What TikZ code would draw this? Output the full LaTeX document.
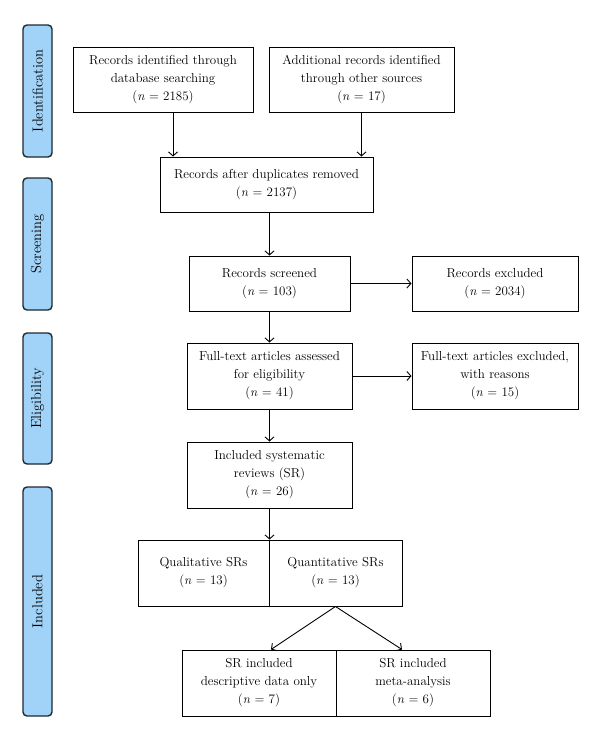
\documentclass[tikz,border=0pt]{standalone}
\usepackage{fontspec}
\usetikzlibrary{arrows.meta}
\definecolor{stageblue}{RGB}{160,211,247}
\definecolor{stageline}{RGB}{30,40,48}
\newcommand{\nval}[1]{(\textit{n}~=~#1)}
\begin{document}
\begin{tikzpicture}[
            x=1pt, y=-1pt,
            every node/.style={font=\fontsize{13}{18}\selectfont},
            box/.style={draw, line width=1pt, align=center, inner sep=0pt},
            stage/.style={draw=stageline, line width=1.4pt, fill=stageblue, rounded corners=4pt,
                rotate=90, minimum height=29pt, inner sep=0pt, font=\fontsize{14.5}{18}\selectfont},
            ->, >={Straight Barb[length=4pt, width=9pt]}, line width=0.9pt
            ]
        \useasboundingbox (0,0) rectangle (600,742);
        % stages on the left
        \node[stage, minimum width=132pt] (ident) at (37.5,91) {Identification};
        \node[stage, minimum width=132pt] (screen) at (37.5,244) {Screening};
        \node[stage, minimum width=131pt] (elig) at (37.5,398.5) {Eligibility};
        \node[stage, minimum width=229pt] (incl) at (37.5,601.5) {Included};
        % boxes
        \node[box, minimum width=180pt, minimum height=65pt] (dbsearch) at (163,79.5)
            {Records identified through\\ database searching\\ \nval{2185}};
        \node[box, minimum width=185pt, minimum height=65pt] (other) at (361.5,79.5)
            {Additional records identified\\ through other sources\\ \nval{17}};
        \node[box, minimum width=213pt, minimum height=55pt] (dedup) at (266.5,184.5)
            {Records after duplicates removed\\ \nval{2137}};
        \node[box, minimum width=161pt, minimum height=55pt] (screened) at (269.5,283.5)
            {Records screened\\ \nval{103}};
        \node[box, minimum width=166pt, minimum height=55pt] (excluded) at (495,283.5)
            {Records excluded\\ \nval{2034}};
        \node[box, minimum width=165pt, minimum height=66pt] (fulltext) at (269.5,376)
            {Full-text articles assessed\\ for eligibility\\ \nval{41}};
        \node[box, minimum width=166pt, minimum height=66pt] (ftexcl) at (495,376)
            {Full-text articles excluded,\\ with reasons\\ \nval{15}};
        \node[box, minimum width=165pt, minimum height=66pt] (sr) at (269.5,475)
            {Included systematic\\ reviews (SR)\\ \nval{26}};
        \node[box, minimum width=131pt, minimum height=66pt] (qual) at (203.5,573)
            {Qualitative SRs\\ \nval{13}};
        \node[box, minimum width=133pt, minimum height=66pt] (quant) at (335.5,573)
            {Quantitative SRs\\ \nval{13}};
        \node[box, minimum width=154pt, minimum height=66pt] (descr) at (259,683)
            {SR included\\ descriptive data only\\ \nval{7}};
        \node[box, minimum width=154pt, minimum height=66pt] (meta) at (413,683)
            {SR included\\ meta-analysis\\ \nval{6}};
        % arrows
        \draw ([xshift=10pt]dbsearch.south) -- ([xshift=10pt]dbsearch.south |- dedup.north);
        \draw (other.south) -- (other.south |- dedup.north);
        \draw (screened.north |- dedup.south) -- (screened.north);
        \draw (screened) -- (excluded);
        \draw (screened) -- (fulltext);
        \draw (fulltext) -- (ftexcl);
        \draw (fulltext) -- (sr);
        \draw (sr.south) -- (sr.south |- quant.north);
        \draw (quant.south) -- ([xshift=12pt]descr.north);
        \draw (quant.south) -- ([xshift=-11pt]meta.north);
        \end{tikzpicture}
\end{document}
